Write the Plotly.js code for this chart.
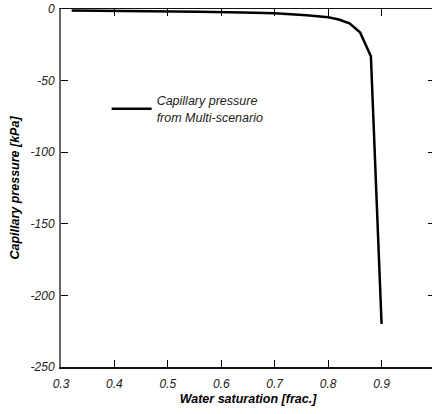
<!DOCTYPE html>
<html><head><meta charset="utf-8">
<script src="https://cdn.plot.ly/plotly-3.0.1.min.js"></script>
<style>html,body{margin:0;padding:0;overflow:hidden;background:#fff;}#chart{width:440px;height:414px;}</style>
</head><body><div id="chart"></div>
<script>
const waterSaturation = [0.32, 0.40, 0.48, 0.56, 0.64, 0.70, 0.76, 0.80, 0.82, 0.84, 0.86, 0.88, 0.90];
const capillaryPressure = [-1.0, -1.2, -1.5, -1.9, -2.4, -3.0, -4.3, -5.8, -7.3, -10.0, -16.5, -33.0, -220.0];
const seriesName = "Capillary pressure<br>from Multi-scenario";
const xTicks = [0.3, 0.4, 0.5, 0.6, 0.7, 0.8, 0.9];
const yTicks = [0, -50, -100, -150, -200, -250];

const fam = "Liberation Sans, Arial, sans-serif";
const trace = {
  x: waterSaturation, y: capillaryPressure, mode: "lines", name: seriesName,
  line: {color: "#000", width: 2.5}
};
const axisCommon = {
  showgrid: false, zeroline: false, showline: true,
  mirror: "ticks", ticks: "inside", ticklen: 7, tickwidth: 1.2, tickcolor: "#000",
  tickfont: {family: fam, size: 12, color: "#222"}
};
const layout = {
  width: 440, height: 414,
  margin: {l: 61, r: 5, t: 9, b: 47},
  paper_bgcolor: "#fff", plot_bgcolor: "#fff",
  font: {family: fam, size: 12, color: "#222"},
  showlegend: true,
  legend: {x: 0.122, y: 0.785, xanchor: "left", yanchor: "top", bgcolor: "rgba(0,0,0,0)",
    itemwidth: 40, font: {family: fam, size: 12.5, color: "#222", style: "italic"}},
  xaxis: Object.assign({}, axisCommon, {
    linecolor: "#111", linewidth: 1.5, ticklabelstandoff: 5,
    range: [0.3, 1.0], tickmode: "array", tickvals: xTicks, ticktext: xTicks.map(v => "<i>" + v.toFixed(1) + "</i>"),
    title: {text: "<b><i>Water saturation [frac.]</i></b>", standoff: 4,
      font: {family: fam, size: 12.5, color: "#000"}}
  }),
  yaxis: Object.assign({}, axisCommon, {
    linecolor: "#666", linewidth: 2, ticklabelstandoff: 2,
    range: [-250, 0], tickmode: "array", tickvals: yTicks, ticktext: yTicks.map(v => "<i>" + v + "</i>"),
    title: {text: "<b><i>Capillary pressure [kPa]</i></b>", standoff: 8,
      font: {family: fam, size: 12.5, color: "#000"}}
  })
};
Plotly.newPlot("chart", [trace], layout, {displayModeBar: false, staticPlot: true});
</script></body></html>
